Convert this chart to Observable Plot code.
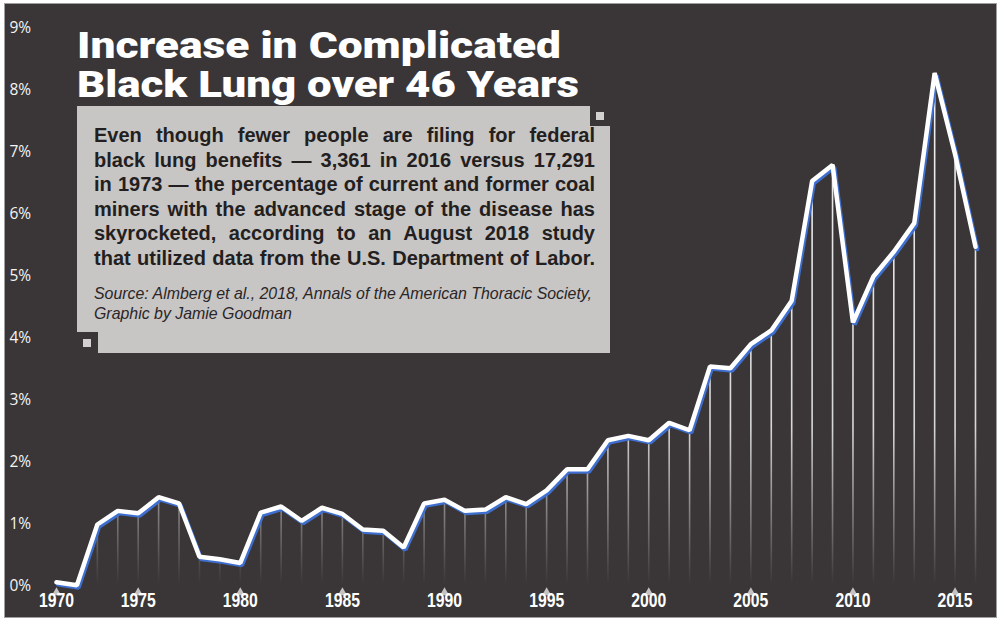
<!DOCTYPE html>
<html><head><meta charset="utf-8">
<script src="https://cdn.jsdelivr.net/npm/d3@7"></script>
<script src="https://cdn.jsdelivr.net/npm/@observablehq/plot@0.6"></script>
<style>
html,body{margin:0;padding:0;background:#fff;}
#wrap{position:relative;width:1000px;height:624px;overflow:hidden;}
#bg{position:absolute;left:4px;top:3px;width:991px;height:613px;background:#3a3637;border:1px solid #a09e9e;}
#chart{position:absolute;left:0;top:0;}
#overlay{position:absolute;left:0;top:0;}
</style></head><body>
<div id="wrap"><div id="bg"></div><div id="chart"></div><svg id="overlay" width="1000" height="624"></svg></div>
<script>
// ---- data ----
const years = [1971,1972,1973,1974,1975,1976,1977,1978,1979,1980,
  1981,1982,1983,1984,1985,1986,1987,1988,1989,1990,
  1991,1992,1993,1994,1995,1996,1997,1998,1999,2000,
  2001,2002,2003,2004,2005,2006,2007,2008,2009,2010,
  2011,2012,2013,2014,2015,2016];
const rates = [0.07,0.02,1.00,1.22,1.18,1.44,1.34,0.48,0.44,0.38,
  1.19,1.29,1.06,1.27,1.17,0.92,0.90,0.63,1.34,1.40,
  1.22,1.24,1.44,1.33,1.55,1.89,1.89,2.36,2.43,2.36,
  2.64,2.52,3.55,3.52,3.91,4.13,4.61,6.54,6.80,4.26,
  5.00,5.40,5.86,8.28,6.97,5.48];
const yTicks = [0,1,2,3,4,5,6,7,8,9];
const yTickLabels = ["0%","1%","2%","3%","4%","5%","6%","7%","8%","9%"];
const xTicks = [1970,1975,1980,1985,1990,1995,2000,2005,2010,2015];
const xTickLabels = ["1970","1975","1980","1985","1990","1995","2000","2005","2010","2015"];

const titleLines = ["Increase in Complicated","Black Lung over 46 Years"];
const bodyLines = [
  "Even though fewer people are filing for federal",
  "black lung benefits \u2014 3,361 in 2016 versus 17,291",
  "in 1973 \u2014 the percentage of current and former coal",
  "miners with the advanced stage of the disease has",
  "skyrocketed, according to an August 2018 study",
  "that utilized data from the U.S. Department of Labor."
];
const sourceLines = [
  "Source: Almberg et al., 2018, Annals of the American Thoracic Society,",
  "Graphic by Jamie Goodman"
];

const data = years.map((year, i) => ({year, rate: rates[i]}));

// the reference nudges the first year label inward onto the first data point
const tickX = d => (d === 1970 ? 1971 : d);

const plot = Plot.plot({
  width: 1000, height: 624,
  marginLeft: 56, marginRight: 25, marginTop: 28, marginBottom: 38,
  x: {domain: [1971, 2016], axis: null},
  y: {domain: [0, 9], axis: null},
  style: {background: "transparent", overflow: "visible"},
  marks: [
    Plot.ruleX(data, {x: "year", y1: 0, y2: "rate", stroke: "url(#fade)", strokeWidth: 1.6}),
    Plot.line(data, {x: "year", y: "rate", stroke: "#3e6fcf", strokeWidth: 4.5, dx: 1.6, dy: 2.2,
      strokeLinejoin: "miter", strokeLinecap: "round"}),
    Plot.line(data, {x: "year", y: "rate", stroke: "#ffffff", strokeWidth: 4.5,
      strokeLinejoin: "miter", strokeLinecap: "round"}),
    Plot.text(yTicks, {y: d => d, frameAnchor: "left", dx: -47, textAnchor: "start",
      text: (d, i) => yTickLabels[i], fill: "#f4f4f4", fontSize: 15.5, fontFamily: "Open Sans, sans-serif"}),
    Plot.dot(xTicks, {x: tickX, frameAnchor: "bottom", dy: 6, symbol: "triangle", r: 3.4,
      fill: "#c4c2c2", stroke: "none"}),
    Plot.text(xTicks, {x: tickX, frameAnchor: "bottom", dy: 20, text: (d, i) => xTickLabels[i],
      fill: "#ffffff", fontSize: 19.5, fontWeight: "bold",
      fontFamily: "'Liberation Sans', Arial, sans-serif"})
  ]
});
document.getElementById("chart").appendChild(plot);

// condense the year labels to match the narrow bold face of the reference
d3.select(plot).selectAll("text").each(function() {
  if (xTickLabels.includes(this.textContent)) {
    this.setAttribute("textLength", 35);
    this.setAttribute("lengthAdjust", "spacingAndGlyphs");
  }
});

// gradient for the fading drop lines
const svgSel = d3.select(plot);
const defs = svgSel.insert("defs", ":first-child");
const grad = defs.append("linearGradient").attr("id", "fade")
  .attr("gradientUnits", "userSpaceOnUse").attr("x1", 0).attr("x2", 0).attr("y1", 28).attr("y2", 584);
grad.append("stop").attr("offset", 0).attr("stop-color", "#ffffff").attr("stop-opacity", 0.95);
grad.append("stop").attr("offset", 0.72).attr("stop-color", "#ffffff").attr("stop-opacity", 0.8);
grad.append("stop").attr("offset", 1).attr("stop-color", "#ffffff").attr("stop-opacity", 0);

// ---- overlay: title and text box ----
const ov = d3.select("#overlay");
ov.append("polygon")
  .attr("points", [[77,106],[590,106],[590,126],[610,126],[610,353],[98,353],[98,332],[77,332]].join(" "))
  .attr("fill", "#c8c5c5");
ov.append("rect").attr("x", 596).attr("y", 112).attr("width", 8).attr("height", 8).attr("fill", "#d3d0d0");
ov.append("rect").attr("x", 83).attr("y", 339).attr("width", 8).attr("height", 8).attr("fill", "#d3d0d0");

const titleBase = [58, 97];
const titleWidths = [484, 502];
const title = ov.append("text")
  .attr("fill", "#ffffff").attr("font-family", "Roboto, Lato, Inter, sans-serif")
  .attr("font-weight", 900).attr("font-size", 36);
titleLines.forEach((t, i) => {
  title.append("tspan").attr("x", 77).attr("y", titleBase[i])
    .attr("textLength", titleWidths[i]).attr("lengthAdjust", "spacingAndGlyphs")
    .text(t);
});

const bodyBase = [142, 166.5, 191, 215.5, 240, 264.5];
const bodyWidth = 501;
bodyLines.forEach((t, i) => {
  const el = ov.append("text").attr("x", 94).attr("y", bodyBase[i])
    .attr("fill", "#231f20").attr("font-family", "'Liberation Sans', Arial, sans-serif")
    .attr("font-weight", "bold").attr("font-size", 20).text(t);
  const len = el.node().getComputedTextLength();
  const spaces = (t.match(/ /g) || []).length;
  el.style("word-spacing", ((bodyWidth - len) / spaces) + "px");
});

const srcBase = [299, 319];
let srcRatio = 1;
sourceLines.forEach((t, i) => {
  const el = ov.append("text").attr("x", 94).attr("y", srcBase[i])
    .attr("fill", "#2a2627").attr("font-family", "'Liberation Sans', Arial, sans-serif")
    .attr("font-style", "italic").attr("font-size", 17).text(t);
  const len = el.node().getComputedTextLength();
  if (i === 0) srcRatio = 498 / len;
  el.attr("textLength", len * srcRatio).attr("lengthAdjust", "spacingAndGlyphs");
});
</script>
</body></html>
